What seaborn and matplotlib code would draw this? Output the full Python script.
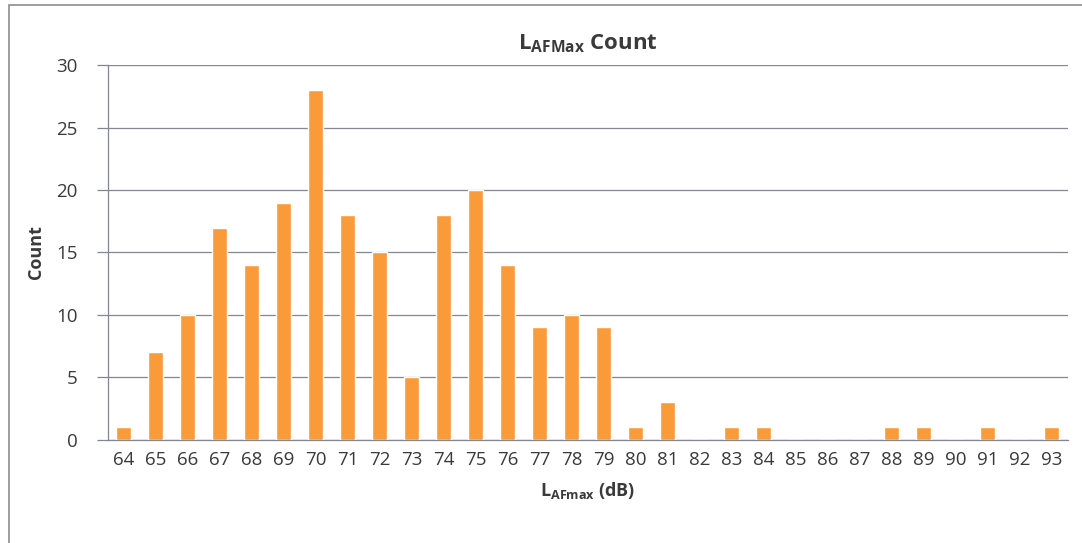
import pandas as pd
import matplotlib.pyplot as plt
import seaborn as sns
from matplotlib.patches import Rectangle

# LAFmax level (dB) and number of events
levels = [64, 65, 66, 67, 68, 69, 70, 71, 72, 73, 74, 75, 76, 77, 78,
          79, 80, 81, 82, 83, 84, 85, 86, 87, 88, 89, 90, 91, 92, 93]
counts = [1, 7, 10, 17, 14, 19, 28, 18, 15, 5, 18, 20, 14, 9, 10,
          9, 1, 3, 0, 1, 1, 0, 0, 0, 1, 1, 0, 1, 0, 1]
y_ticks = [0, 5, 10, 15, 20, 25, 30]

df = pd.DataFrame({"level": [str(v) for v in levels], "count": counts})

sns.set_style("white")
plt.rcParams["font.family"] = ["Open Sans", "DejaVu Sans"]
plt.rcParams["mathtext.fontset"] = "custom"
plt.rcParams["mathtext.rm"] = "Open Sans"
plt.rcParams["mathtext.bf"] = "Open Sans:bold"

fig = plt.figure(figsize=(10.82, 5.43), dpi=100)
ax = fig.add_axes([0.0998, 0.19, 0.887, 0.69])

sns.barplot(data=df, x="level", y="count", color="#F99B38",
            width=0.47, saturation=1, ax=ax, zorder=3)

ax.set_ylim(0, 30)
ax.set_yticks(y_ticks)
ax.set_xlim(-0.5, len(levels) - 0.5)
ax.yaxis.grid(True, color="#84878f", linewidth=0.9, zorder=0)

# excel style: tick marks between categories
ax.set_xticks([i - 0.5 for i in range(len(levels) + 1)], minor=True)
ax.tick_params(axis="x", which="major", length=0, pad=8, labelsize=13.5, colors="#3a3a3a")
ax.tick_params(axis="x", which="minor", length=6, color="#84878f", width=0.9)
ax.tick_params(axis="y", length=8, color="#84878f", width=0.9, pad=14,
               labelsize=13.5, colors="#3a3a3a", left=True)

for side in ["top", "right"]:
    ax.spines[side].set_visible(False)
for side in ["left", "bottom"]:
    ax.spines[side].set_color("#84878f")
    ax.spines[side].set_linewidth(0.9)

ax.set_xlabel(r"$\mathbf{L_{AFmax}}$ (dB)", fontsize=13, fontweight="bold",
              color="#3a3a3a", labelpad=8)
ax.set_ylabel("Count", fontsize=13, fontweight="bold", color="#3a3a3a", labelpad=8)
ax.set_title(r"$\mathbf{L_{AFMax}}$ Count", fontsize=16, fontweight="bold",
             color="#3a3a3a", pad=11)

# outer chart border
fig.patches.append(Rectangle((0.008, -0.01), 1.0, 1.0, transform=fig.transFigure,
                             fill=False, edgecolor="#8c8c8c", linewidth=1.2))

plt.savefig("out.png", dpi=100)
